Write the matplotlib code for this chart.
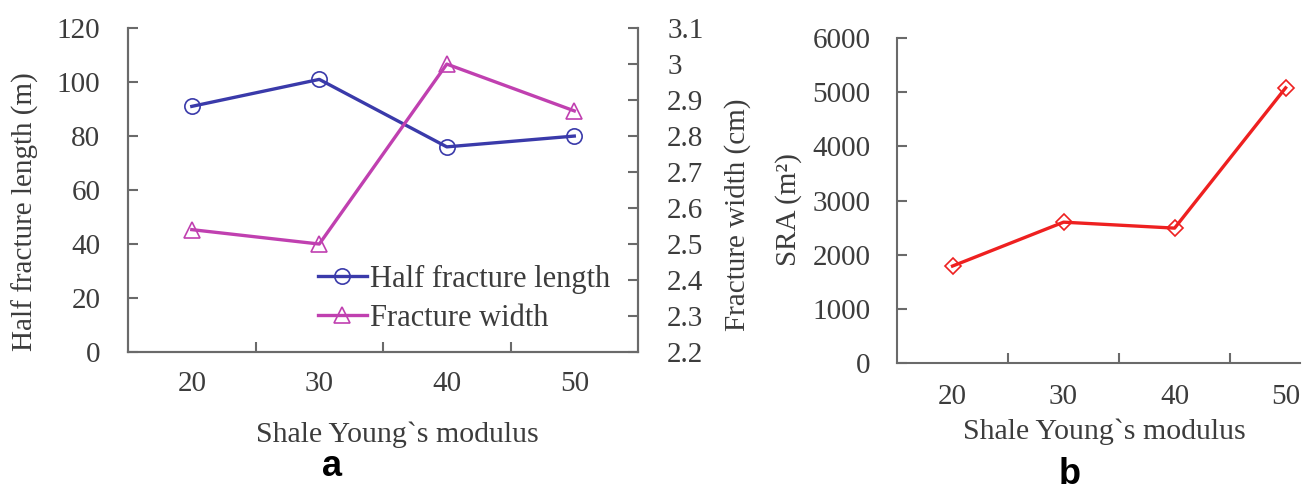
import numpy as np
import matplotlib
matplotlib.use("Agg")
import matplotlib.pyplot as plt

modulus = ["20", "30", "40", "50"]
half_length = [91, 101, 76, 80]
frac_width = [2.54, 2.50, 3.00, 2.87]
sra = [1790, 2600, 2490, 5080]

BLUE = "#3a3aaa"
MAGENTA = "#c040b0"
RED = "#ee2020"
TXT = "#3c3c3c"
SPINE = "#6a6a6a"
FS = 21

plt.rcParams["font.family"] = ["Liberation Serif", "DejaVu Serif"]
plt.rcParams["text.color"] = TXT
plt.rcParams["axes.labelcolor"] = TXT
plt.rcParams["xtick.color"] = SPINE
plt.rcParams["ytick.color"] = SPINE
plt.rcParams["xtick.labelcolor"] = TXT
plt.rcParams["ytick.labelcolor"] = TXT

fig = plt.figure(figsize=(13.12, 4.93), dpi=100)
x = np.arange(1, len(modulus) + 1)


def style_ax(ax, right=False, xpad=14, ypad=20):
    ax.spines["top"].set_visible(False)
    ax.spines["right"].set_visible(right)
    for s in ax.spines.values():
        s.set_color(SPINE)
        s.set_linewidth(1.5)
    # boundary ticks between categories, labels at category centres
    ax.set_xticks(np.arange(1.5, len(modulus), 1.0))
    ax.set_xticklabels([])
    ax.set_xticks(x, minor=True)
    ax.set_xticklabels(modulus, minor=True)
    ax.tick_params(axis="x", which="major", direction="in", length=7, width=1.5)
    ax.tick_params(axis="x", which="minor", length=0, pad=xpad, labelsize=FS)
    ax.tick_params(axis="y", direction="in", length=7, width=1.5,
                   labelsize=FS, pad=ypad)


# ---- panel a
ax1 = fig.add_axes([0.0976, 0.286, 0.3887, 0.657])
l1, = ax1.plot(x, half_length, color=BLUE, lw=2.4, marker="o", ms=11,
               mfc="none", mec=BLUE, mew=1.2)
ax1.set_xlim(0.5, 4.5)
ax1.set_ylim(0, 120)
ax1.set_yticks(np.arange(0, 121, 20))
style_ax(ax1, right=True, xpad=14, ypad=20)
ax1.set_ylabel("Half fracture length (m)", fontsize=FS)
ax1.yaxis.set_label_coords(-0.202, 0.432)
ax1.yaxis.label.set_va("center")
ax1.set_xlabel("Shale Young`s modulus", fontsize=FS + 0.5)
ax1.xaxis.set_label_coords(0.529, -0.255)
ax1.xaxis.label.set_va("center")

ax2 = ax1.twinx()
l2, = ax2.plot(x, frac_width, color=MAGENTA, lw=2.4, marker="^", ms=11,
               mfc="none", mec=MAGENTA, mew=1.2)
ax2.set_ylim(2.2, 3.1)
ax2.set_yticks(np.round(np.arange(2.2, 3.11, 0.1), 1))
ax2.set_yticklabels(["2.2", "2.3", "2.4", "2.5", "2.6", "2.7", "2.8", "2.9", "3", "3.1"])
ax2.spines["top"].set_visible(False)
for s in ax2.spines.values():
    s.set_color(SPINE)
    s.set_linewidth(1.5)
ax2.tick_params(axis="y", direction="in", length=7, width=1.5, labelsize=FS, pad=21)
ax2.set_ylabel("Fracture width (cm)", fontsize=FS)
ax2.yaxis.set_label_coords(1.196, 0.423)
ax2.yaxis.label.set_va("center")

ax1.legend([l1, l2], ["Half fracture length", "Fracture width"], loc="lower right",
           bbox_to_anchor=(0.945, 0.06), frameon=False, fontsize=FS + 1,
           handlelength=1.6, handletextpad=0.1, labelspacing=0.32,
           borderpad=0, borderaxespad=0)

fig.text(332 / 1312, 1 - 466 / 493, "a", fontsize=26, fontweight="bold",
         family="Liberation Sans", color="black", ha="center", va="center")

# ---- panel b
ax3 = fig.add_axes([0.6837, 0.2637, 0.3072, 0.6592])
ax3.plot(x, sra, color=RED, lw=2.4, marker="D", ms=8,
         mfc="none", mec=RED, mew=1.2)
ax3.set_xlim(0.5, 4.13)
ax3.set_ylim(0, 6000)
ax3.set_yticks(np.arange(0, 6001, 1000))
style_ax(ax3, xpad=15, ypad=19)
ax3.set_ylabel("SRA (m²)", fontsize=FS)
ax3.yaxis.set_label_coords(-0.270, 0.471)
ax3.yaxis.label.set_va("center")
ax3.set_xlabel("Shale Young`s modulus", fontsize=FS + 0.5)
ax3.xaxis.set_label_coords(0.514, -0.212)
ax3.xaxis.label.set_va("center")

fig.text(1070 / 1312, 1 - 474 / 493, "b", fontsize=26, fontweight="bold",
         family="Liberation Sans", color="black", ha="center", va="center")

fig.savefig("out.png", dpi=100)
